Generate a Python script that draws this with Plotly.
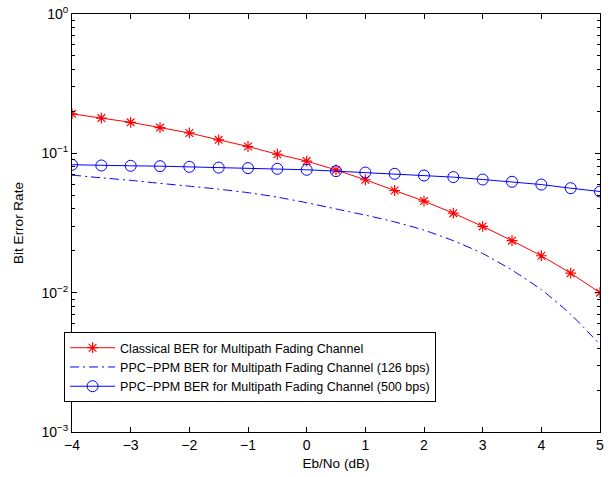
import plotly.graph_objects as go

ebno = [-4, -3.5, -3, -2.5, -2, -1.5, -1, -0.5, 0, 0.5, 1, 1.5, 2, 2.5, 3, 3.5, 4, 4.5, 5]

ber_classical = [0.192, 0.179, 0.167, 0.153, 0.140, 0.125, 0.112, 0.0985, 0.088, 0.076,
                 0.0646, 0.0541, 0.0454, 0.0372, 0.0299, 0.0236, 0.0184, 0.0138, 0.0100]

ber_ppc_126 = [0.0698, 0.0667, 0.0640, 0.0609, 0.0581, 0.0553, 0.0522, 0.0485, 0.0442, 0.0399,
               0.0360, 0.0322, 0.0281, 0.0236, 0.0191, 0.0145, 0.0105, 0.0070, 0.00424]

ber_ppc_500 = [0.0828, 0.0818, 0.0814, 0.0809, 0.0800, 0.0790, 0.0783, 0.0774, 0.0762, 0.0745,
               0.0728, 0.0713, 0.0693, 0.0675, 0.0649, 0.0625, 0.0597, 0.0562, 0.0532]

x_ticks = [-4, -3, -2, -1, 0, 1, 2, 3, 4, 5]
x_ticktext = ['\u22124', '\u22123', '\u22122', '\u22121', '0', '1', '2', '3', '4', '5']
y_ticks = [1e-3, 1e-2, 1e-1, 1]
y_ticktext = ['10<sup>\u22123</sup>', '10<sup>\u22122</sup>', '10<sup>\u22121</sup>', '10<sup>0</sup>']

fig = go.Figure()

fig.add_trace(go.Scatter(
    x=ebno, y=ber_classical,
    mode='lines+markers',
    name='Classical BER for Multipath Fading Channel',
    line=dict(color='red', width=1),
    marker=dict(symbol='asterisk-open', size=9, color='red', line=dict(color='red', width=1.2))
))
fig.add_trace(go.Scatter(
    x=ebno, y=ber_ppc_126,
    mode='lines',
    name='PPC\u2212PPM BER for Multipath Fading Channel (126 bps)',
    line=dict(color='blue', width=1, dash='9px,4px,2px,4px', shape='spline', smoothing=0.6)
))
fig.add_trace(go.Scatter(
    x=ebno, y=ber_ppc_500,
    mode='lines+markers',
    name='PPC\u2212PPM BER for Multipath Fading Channel (500 bps)',
    line=dict(color='blue', width=1),
    marker=dict(symbol='circle-open', size=11, color='blue', line=dict(color='blue', width=1))
))

fam = 'Liberation Sans, Arial, sans-serif'
tick_font = dict(family=fam, size=14, color='black')
title_font = dict(family=fam, size=13.5, color='black')

fig.update_layout(
    template='none',
    width=613,
    height=477,
    autosize=False,
    margin=dict(l=72, r=13, t=14, b=45, pad=0),
    paper_bgcolor='white',
    plot_bgcolor='white',
    font=title_font,
    showlegend=True,
    legend=dict(
        x=-0.015, y=0.239, xanchor='left', yanchor='top',
        bgcolor='white', bordercolor='black', borderwidth=1,
        font=dict(family=fam, size=12.5, color='black'),
        itemwidth=45,
        tracegroupgap=0,
    ),
    xaxis=dict(
        range=[-4, 5],
        automargin=False,
        tickvals=x_ticks, ticktext=x_ticktext, tickfont=tick_font,
        ticks='inside', ticklen=5, tickcolor='black',
        showline=True, linecolor='black', linewidth=1, mirror='allticks',
        showgrid=False, zeroline=False,
        title=dict(text='Eb/No (dB)', font=title_font, standoff=6),
    ),
    yaxis=dict(
        type='log',
        range=[-3, 0],
        automargin=False,
        tickvals=y_ticks, ticktext=y_ticktext, tickfont=tick_font,
        ticks='inside', ticklen=5, tickcolor='black',
        showline=True, linecolor='black', linewidth=1, mirror='allticks',
        showgrid=False, zeroline=False,
        minor=dict(ticks='inside', ticklen=3, tickcolor='black', showgrid=False, dtick='D1'),
        title=dict(text='Bit Error Rate', font=title_font, standoff=14),
    ),
)

fig.write_html("out.html", config={'displayModeBar': False},
               post_script="document.body.style.margin='0';")
